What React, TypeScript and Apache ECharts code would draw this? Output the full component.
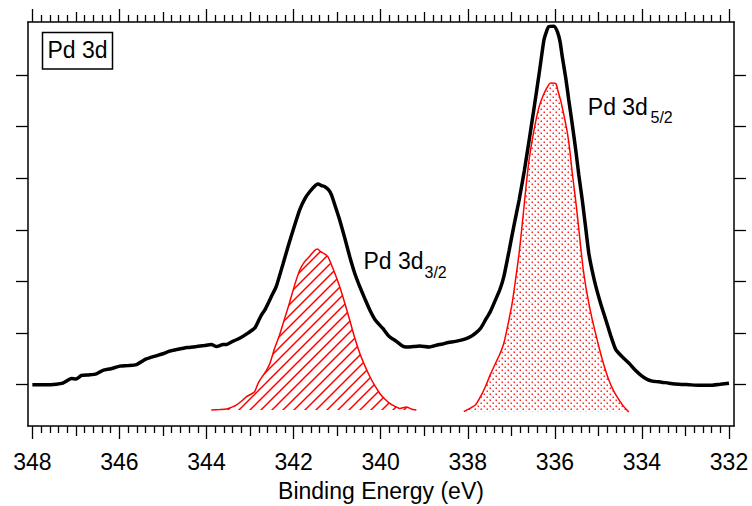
import { useEffect, useRef } from "react";
import * as echarts from "echarts";

// Tick positions / labels (binding energy, eV)
const majorTicks = [348, 346, 344, 342, 340, 338, 336, 334, 332];
const yTicks = [0, 1, 2, 3, 4, 5, 6];

// Measured spectrum (black)
const spectrum: [number, number][] = [
  [348.0, 0.0], [347.7, 0.0], [347.45, 0.01], [347.3, 0.03], [347.1, 0.12], [347.0, 0.11],
  [346.87, 0.18], [346.7, 0.19], [346.53, 0.21], [346.38, 0.28], [346.2, 0.31], [345.99, 0.36],
  [345.8, 0.37], [345.61, 0.39], [345.45, 0.47], [345.38, 0.5], [345.2, 0.55], [345.0, 0.6],
  [344.85, 0.65], [344.69, 0.68], [344.45, 0.72], [344.23, 0.74], [344.05, 0.76], [343.89, 0.78],
  [343.77, 0.74], [343.62, 0.78], [343.54, 0.78], [343.4, 0.84], [343.24, 0.9], [343.05, 1.0],
  [342.89, 1.1], [342.8, 1.25], [342.74, 1.35], [342.66, 1.45], [342.51, 1.71], [342.4, 1.9],
  [342.24, 2.35], [342.12, 2.7], [342.01, 3.0], [341.86, 3.39], [341.73, 3.62], [341.63, 3.74],
  [341.5, 3.86], [341.44, 3.89], [341.36, 3.86], [341.29, 3.84], [341.2, 3.78], [341.13, 3.68],
  [341.04, 3.45], [340.94, 3.19], [340.82, 2.83], [340.71, 2.48], [340.6, 2.17], [340.48, 1.9],
  [340.36, 1.66], [340.25, 1.45], [340.12, 1.25], [339.95, 1.09], [339.81, 0.94], [339.64, 0.84],
  [339.5, 0.75], [339.41, 0.73], [339.25, 0.74], [339.1, 0.75], [338.89, 0.73], [338.7, 0.77],
  [338.58, 0.79], [338.45, 0.82], [338.28, 0.84], [338.05, 0.89], [337.9, 0.95], [337.82, 1.0],
  [337.7, 1.1], [337.59, 1.26], [337.48, 1.42], [337.36, 1.65], [337.26, 1.85], [337.17, 2.1],
  [337.05, 2.6], [336.94, 3.08], [336.82, 3.58], [336.7, 4.15], [336.59, 4.74], [336.47, 5.4],
  [336.36, 6.03], [336.25, 6.68], [336.19, 6.85], [336.14, 6.94], [336.02, 6.95], [335.94, 6.84],
  [335.88, 6.65], [335.83, 6.36], [335.75, 5.95], [335.68, 5.52], [335.6, 5.05], [335.52, 4.55],
  [335.45, 4.07], [335.37, 3.58], [335.3, 3.1], [335.22, 2.55], [335.14, 2.2], [335.06, 1.91],
  [334.95, 1.58], [334.83, 1.26], [334.72, 0.96], [334.6, 0.68], [334.45, 0.54], [334.3, 0.42],
  [334.15, 0.28], [333.99, 0.16], [333.87, 0.1], [333.76, 0.07], [333.55, 0.05], [333.38, 0.03],
  [333.15, 0.01], [332.92, 0.0], [332.7, -0.01], [332.46, -0.01], [332.2, 0.01], [332.0, 0.03],
];

// Pd 3d3/2 fitted component (red, hatched)
const base32 = -0.49;
const fit32: [number, number][] = [
  [343.89, -0.49], [343.7, -0.48], [343.54, -0.47], [343.4, -0.43], [343.31, -0.39], [343.2, -0.32],
  [343.08, -0.23], [342.95, -0.17], [342.89, -0.13], [342.82, 0.02], [342.78, 0.08], [342.7, 0.18],
  [342.63, 0.27], [342.55, 0.4], [342.43, 0.72], [342.32, 0.97], [342.2, 1.3], [342.09, 1.6],
  [341.97, 1.95], [341.86, 2.22], [341.75, 2.38], [341.62, 2.5], [341.52, 2.6], [341.45, 2.63],
  [341.38, 2.58], [341.3, 2.54], [341.21, 2.48], [341.08, 2.22], [340.94, 1.9], [340.82, 1.57],
  [340.71, 1.25], [340.6, 0.92], [340.48, 0.61], [340.36, 0.36], [340.25, 0.16], [340.14, -0.01],
  [340.02, -0.17], [339.9, -0.28], [339.79, -0.36], [339.67, -0.42], [339.56, -0.46], [339.41, -0.43],
  [339.3, -0.47], [339.18, -0.49],
];

// Pd 3d5/2 fitted component (red, dotted)
const base52 = -0.52;
const fit52: [number, number][] = [
  [338.09, -0.52], [337.95, -0.46], [337.82, -0.39], [337.7, -0.22], [337.59, -0.03], [337.48, 0.2],
  [337.36, 0.42], [337.26, 0.6], [337.17, 0.81], [337.08, 1.15], [336.98, 1.58], [336.9, 2.05],
  [336.82, 2.55], [336.75, 3.1], [336.67, 3.77], [336.6, 4.3], [336.52, 4.74], [336.44, 5.1],
  [336.36, 5.39], [336.28, 5.58], [336.21, 5.71], [336.1, 5.85], [335.98, 5.84], [335.93, 5.7],
  [335.87, 5.52], [335.79, 5.22], [335.71, 4.87], [335.65, 4.5], [335.6, 4.1], [335.54, 3.7],
  [335.48, 3.26], [335.41, 2.7], [335.35, 2.25], [335.29, 1.91], [335.22, 1.58], [335.14, 1.26],
  [335.06, 0.98], [334.99, 0.74], [334.88, 0.4], [334.76, 0.09], [334.65, -0.12], [334.53, -0.29],
  [334.42, -0.42], [334.3, -0.53],
];

const FONT = '"Liberation Sans", Arial, Helvetica, sans-serif';
const X_MIN = 331.885;
const X_MAX = 348.1;
const Y_MIN = -0.8;
const Y_MAX = 7.03;

function mediumTicks(): number[] {
  const out: number[] = [];
  for (let v = 333; v <= 347; v += 2) out.push(v);
  return out;
}
function minorTicks(): number[] {
  const out: number[] = [];
  for (let i = 0; i <= 80; i++) {
    if (i % 5 === 0) continue;
    out.push(Math.round((332 + i * 0.2) * 10) / 10);
  }
  return out;
}

function makeHatch(): HTMLCanvasElement {
  const s = 11;
  const c = document.createElement("canvas");
  c.width = s;
  c.height = s;
  const g = c.getContext("2d")!;
  g.strokeStyle = "#ff0000";
  g.lineWidth = 1.5;
  g.beginPath();
  g.moveTo(-2, s + 2);
  g.lineTo(s + 2, -2);
  g.moveTo(-2, 2);
  g.lineTo(2, -2);
  g.moveTo(s - 2, s + 2);
  g.lineTo(s + 2, s - 2);
  g.stroke();
  return c;
}

function makeDots(): HTMLCanvasElement {
  const s = 6;
  const c = document.createElement("canvas");
  c.width = s;
  c.height = s;
  const g = c.getContext("2d")!;
  g.fillStyle = "rgba(255,0,0,0.85)";
  g.fillRect(0.5, 0.5, 1.5, 1.5);
  g.fillRect(3.5, 3.5, 1.5, 1.5);
  return c;
}

function xAxisDef(gridIndex: number, position: "top" | "bottom", values: number[], len: number, main: boolean) {
  const labelled = main && position === "bottom";
  return {
    type: "value",
    gridIndex,
    position,
    min: X_MIN,
    max: X_MAX,
    inverse: true,
    splitLine: { show: false },
    axisLine: { show: main, onZero: false, lineStyle: { color: "#000", width: 1.5 } },
    axisTick: {
      show: true,
      inside: false,
      length: len,
      customValues: values,
      lineStyle: { color: "#000", width: 1.3 },
    },
    axisLabel: labelled
      ? {
          show: true,
          customValues: majorTicks,
          margin: 24,
          color: "#000",
          fontSize: 23,
          fontFamily: FONT,
        }
      : { show: false },
    ...(labelled
      ? {
          name: "Binding Energy (eV)",
          nameLocation: "middle",
          nameGap: 53,
          nameTextStyle: { color: "#000", fontSize: 23, fontFamily: FONT },
        }
      : {}),
  };
}

function yAxisDef(gridIndex: number, position: "left" | "right", visible: boolean) {
  return {
    type: "value",
    gridIndex,
    position,
    show: visible,
    min: Y_MIN,
    max: Y_MAX,
    splitLine: { show: false },
    axisLine: { show: true, onZero: false, lineStyle: { color: "#000", width: 1.5 } },
    axisTick: {
      show: true,
      inside: false,
      length: 12,
      customValues: yTicks,
      lineStyle: { color: "#000", width: 1.3 },
    },
    axisLabel: { show: false },
  };
}

export default function App() {
  const ref = useRef<HTMLDivElement>(null);
  useEffect(() => {
    const chart = echarts.init(ref.current!, null, { renderer: "svg" });
    const med = mediumTicks();
    const minor = minorTicks();
    const gridBox = { left: 28, right: 18, top: 22, bottom: 80, containLabel: false, outerBoundsMode: "none" };
    const option: any = {
      animation: false,
      backgroundColor: "#fff",
      grid: [gridBox, { ...gridBox }, { ...gridBox }],
      xAxis: [
        xAxisDef(0, "bottom", majorTicks, 13, true),
        xAxisDef(0, "top", majorTicks, 13, true),
        xAxisDef(1, "bottom", med, 10, false),
        xAxisDef(1, "top", med, 10, false),
        xAxisDef(2, "bottom", minor, 7, false),
        xAxisDef(2, "top", minor, 7, false),
      ],
      yAxis: [
        yAxisDef(0, "left", true),
        yAxisDef(0, "right", true),
        yAxisDef(1, "left", false),
        yAxisDef(2, "left", false),
      ],
      series: [
        {
          type: "line",
          name: "Pd 3d3/2",
          data: fit32,
          xAxisIndex: 0,
          yAxisIndex: 0,
          showSymbol: false,
          symbol: "none",
          smooth: 0.2,
          lineStyle: { color: "#ff0000", width: 1.5 },
          areaStyle: {
            origin: base32,
            opacity: 1,
            color: { image: makeHatch(), repeat: "repeat", imageWidth: 11, imageHeight: 11 },
          },
          z: 2,
        },
        {
          type: "line",
          name: "Pd 3d5/2",
          data: fit52,
          xAxisIndex: 0,
          yAxisIndex: 0,
          showSymbol: false,
          symbol: "none",
          smooth: 0.2,
          lineStyle: { color: "#ff0000", width: 1.5 },
          areaStyle: {
            origin: base52,
            opacity: 1,
            color: { image: makeDots(), repeat: "repeat", imageWidth: 6, imageHeight: 6 },
          },
          z: 2,
        },
        {
          type: "line",
          name: "Pd 3d",
          data: spectrum,
          xAxisIndex: 0,
          yAxisIndex: 0,
          showSymbol: false,
          symbol: "none",
          smooth: 0.2,
          lineStyle: { color: "#000", width: 3.5 },
          z: 3,
        },
      ],
      graphic: [
        {
          type: "rect",
          shape: { x: 42.5, y: 32.5, width: 70, height: 36.5 },
          style: { fill: "#fff", stroke: "#000", lineWidth: 1.5 },
          z: 10,
        },
        {
          type: "text",
          x: 77.5,
          y: 50,
          style: { text: "Pd 3d", fill: "#000", fontSize: 23, fontFamily: FONT, align: "center", verticalAlign: "middle" },
          z: 11,
        },
        {
          type: "text",
          x: 363.5,
          y: 261.3,
          style: { text: "Pd 3d", fill: "#000", fontSize: 23, fontFamily: FONT, align: "left", verticalAlign: "middle" },
          z: 11,
        },
        {
          type: "text",
          x: 424.5,
          y: 272.5,
          style: { text: "3/2", fill: "#000", fontSize: 16, fontFamily: FONT, align: "left", verticalAlign: "middle" },
          z: 11,
        },
        {
          type: "text",
          x: 587.8,
          y: 107,
          style: { text: "Pd 3d", fill: "#000", fontSize: 23, fontFamily: FONT, align: "left", verticalAlign: "middle" },
          z: 11,
        },
        {
          type: "text",
          x: 650.5,
          y: 117.5,
          style: { text: "5/2", fill: "#000", fontSize: 16, fontFamily: FONT, align: "left", verticalAlign: "middle" },
          z: 11,
        },
      ],
    };
    chart.setOption(option);
    return () => chart.dispose();
  }, []);
  return (
    <div
      ref={ref}
      style={{ position: "fixed", left: 0, top: 0, width: 752, height: 506, background: "#fff" }}
    />
  );
}
